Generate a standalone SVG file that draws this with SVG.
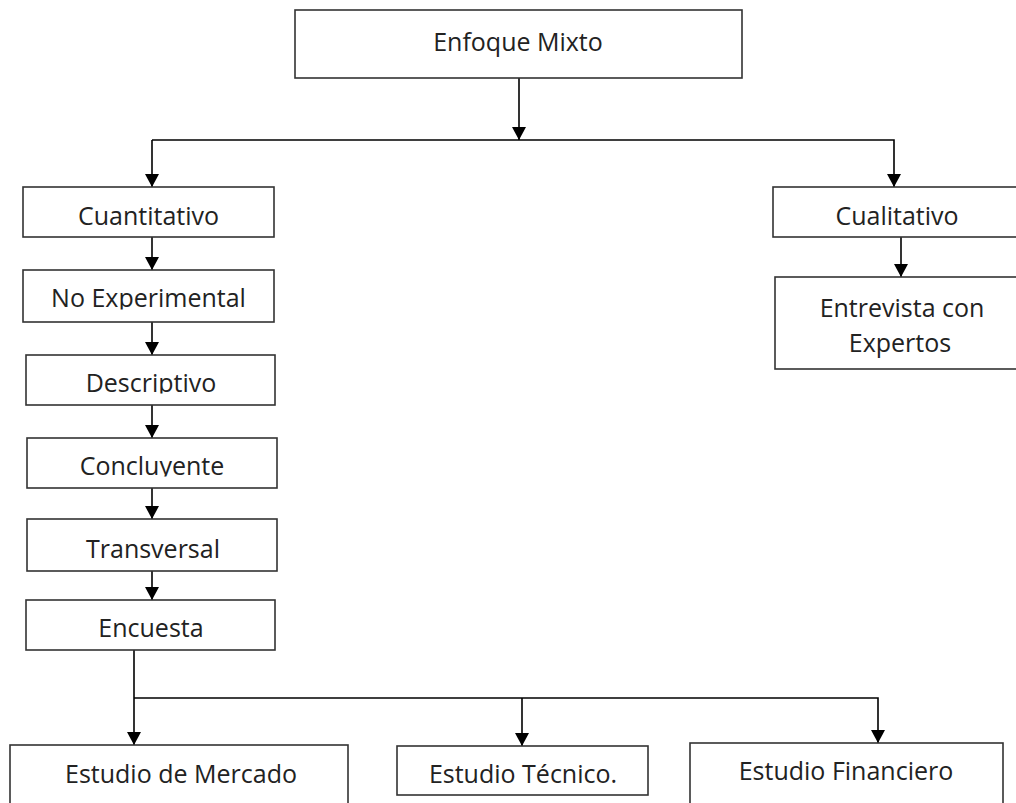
<svg xmlns="http://www.w3.org/2000/svg" width="1016" height="803" viewBox="0 0 1016 803">
<style>
.box{fill:#fff;stroke:#333;stroke-width:1.6}
.t{font-family:"Open Sans","Liberation Sans",sans-serif;font-size:25px;fill:#222;text-anchor:middle}
.c{fill:none;stroke:#000;stroke-width:1.6}
</style>
<defs>
<marker id="ah" markerWidth="13" markerHeight="14" refX="13" refY="7" orient="auto" markerUnits="userSpaceOnUse">
<path d="M0,0 L13,7 L0,14 Z" fill="#000"/>
</marker>
<clipPath id="clipNE"><rect x="23" y="270" width="251" height="39.5"/></clipPath>
<clipPath id="clipDe"><rect x="26" y="355" width="249" height="38.5"/></clipPath>
<clipPath id="clipCo"><rect x="27" y="438" width="250" height="38.5"/></clipPath>
</defs>
<rect width="1016" height="803" fill="#fff"/>
<g id="connectors">
<line class="c" x1="519" y1="78" x2="519" y2="140" marker-end="url(#ah)"/>
<polyline class="c" points="152,140 894,140 894,187" marker-end="url(#ah)"/>
<line class="c" x1="152" y1="140" x2="152" y2="187" marker-end="url(#ah)"/>
<line class="c" x1="152" y1="237" x2="152" y2="270" marker-end="url(#ah)"/>
<line class="c" x1="152" y1="322" x2="152" y2="355" marker-end="url(#ah)"/>
<line class="c" x1="152" y1="405" x2="152" y2="438" marker-end="url(#ah)"/>
<line class="c" x1="152" y1="488" x2="152" y2="519" marker-end="url(#ah)"/>
<line class="c" x1="152" y1="571" x2="152" y2="600" marker-end="url(#ah)"/>
<line class="c" x1="901" y1="237" x2="901" y2="277" marker-end="url(#ah)"/>
<line class="c" x1="134" y1="650" x2="134" y2="745" marker-end="url(#ah)"/>
<polyline class="c" points="134,698 878,698 878,743" marker-end="url(#ah)"/>
<line class="c" x1="522" y1="698" x2="522" y2="746" marker-end="url(#ah)"/>
</g>
<g id="enfoque"><rect class="box" x="295" y="10" width="447" height="68"/><text class="t" x="518" y="51">Enfoque Mixto</text></g>
<g id="cuantitativo"><rect class="box" x="23" y="187" width="251" height="50"/><text class="t" x="148.5" y="225">Cuantitativo</text></g>
<g id="noexperimental"><rect class="box" x="23" y="270" width="251" height="52"/><text class="t" x="148.5" y="307" clip-path="url(#clipNE)">No Experimental</text></g>
<g id="descriptivo"><rect class="box" x="26" y="355" width="249" height="50"/><text class="t" x="151" y="392" clip-path="url(#clipDe)">Descriptivo</text></g>
<g id="concluyente"><rect class="box" x="27" y="438" width="250" height="50"/><text class="t" x="152" y="475" clip-path="url(#clipCo)">Concluyente</text></g>
<g id="transversal"><rect class="box" x="27" y="519" width="250" height="52"/><text class="t" x="153" y="558">Transversal</text></g>
<g id="encuesta"><rect class="box" x="26" y="600" width="249" height="50"/><text class="t" x="151" y="637">Encuesta</text></g>
<g id="cualitativo"><rect class="box" x="773" y="187" width="250" height="50"/><text class="t" x="897" y="225">Cualitativo</text></g>
<g id="entrevista"><rect class="box" x="775" y="277" width="250" height="92"/><text class="t" x="902" y="317">Entrevista con</text><text class="t" x="900" y="352">Expertos</text></g>
<g id="mercado"><rect class="box" x="10" y="745" width="338" height="70"/><text class="t" x="181" y="783">Estudio de Mercado</text></g>
<g id="tecnico"><rect class="box" x="397" y="746" width="251" height="49"/><text class="t" x="523" y="783">Estudio Técnico.</text></g>
<g id="financiero"><rect class="box" x="690" y="743" width="313" height="70"/><text class="t" x="846" y="780">Estudio Financiero</text></g>
</svg>
